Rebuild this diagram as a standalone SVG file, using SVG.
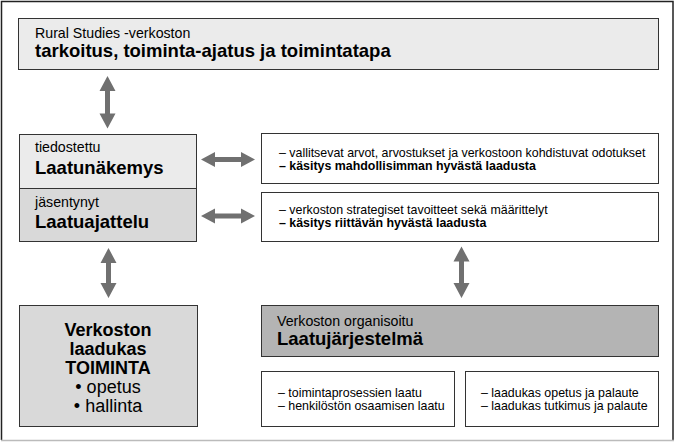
<svg xmlns="http://www.w3.org/2000/svg" width="675" height="443" viewBox="0 0 675 443">
<style>
.box{stroke:#333;stroke-width:1}
.l1{fill:#ebebeb}
.l2{fill:#d9d9d9}
.l3{fill:#b4b4b4}
.w{fill:#fff}
.arr{fill:#707070}
text{font-family:"Liberation Sans",Arial,sans-serif;fill:#000}
.s{font-size:14.2px}
.b{font-size:18.5px;font-weight:bold}
.t{font-size:12.4px}
.tb{font-size:12.4px;font-weight:bold}
.c{font-size:18px;text-anchor:middle}
</style>
<rect x="0" y="0" width="675" height="443" fill="#fff"/>
<path d="M1.5,440 V1.5 H673 V440" fill="none" stroke="#222" stroke-width="1.5"/>
<path d="M1,440.5 H674" stroke="#bbb" stroke-width="1.5"/>

<g id="top">
<rect class="box l1" x="18.5" y="18.5" width="640" height="51"/>
<text class="s" x="35" y="38">Rural Studies -verkoston</text>
<text class="b" x="35" y="57">tarkoitus, toiminta-ajatus ja toimintatapa</text>
</g>

<g id="laatunakemys">
<rect class="box l1" x="19.5" y="134.5" width="177" height="54"/>
<text class="s" x="35" y="152">tiedostettu</text>
<text class="b" x="35" y="173.5">Laatunäkemys</text>
</g>

<g id="laatuajattelu">
<rect class="box l2" x="19.5" y="188.5" width="177" height="53"/>
<text class="s" x="35" y="207">jäsentynyt</text>
<text class="b" x="35" y="228">Laatuajattelu</text>
</g>

<g id="arvot">
<rect class="box w" x="261.5" y="133.5" width="397" height="50"/>
<text class="t" x="279" y="156.7">– vallitsevat arvot, arvostukset ja verkostoon kohdistuvat odotukset</text>
<text class="tb" x="279" y="170">– käsitys mahdollisimman hyvästä laadusta</text>
</g>

<g id="strategia">
<rect class="box w" x="261.5" y="192.5" width="397" height="49"/>
<text class="t" x="279" y="214.3">– verkoston strategiset tavoitteet sekä määrittelyt</text>
<text class="tb" x="279" y="227">– käsitys riittävän hyvästä laadusta</text>
</g>

<g id="toiminta">
<rect class="box l2" x="19.5" y="305.5" width="178" height="121"/>
<text class="c" x="108" y="336" font-weight="bold">Verkoston</text>
<text class="c" x="108" y="355" font-weight="bold">laadukas</text>
<text class="c" x="108" y="374" font-weight="bold">TOIMINTA</text>
<text class="c" x="108" y="393">• opetus</text>
<text class="c" x="108" y="412">• hallinta</text>
</g>

<g id="laatujarjestelma">
<rect class="box l3" x="261.5" y="305.5" width="397" height="51"/>
<text class="s" x="277" y="326">Verkoston organisoitu</text>
<text class="b" x="277" y="345">Laatujärjestelmä</text>
</g>

<g id="prosessit">
<rect class="box w" x="261.5" y="371.5" width="193" height="55"/>
<text class="t" x="278" y="396.7">– toimintaprosessien laatu</text>
<text class="t" x="278" y="409.5">– henkilöstön osaamisen laatu</text>
</g>

<g id="opetus">
<rect class="box w" x="465.5" y="371.5" width="193" height="55"/>
<text class="t" x="481" y="396.7">– laadukas opetus ja palaute</text>
<text class="t" x="481" y="409.5">– laadukas tutkimus ja palaute</text>
</g>

<g id="connectors" class="arr">
<path d="M107.5,76 L115.5,91 L110,91 L110,113.5 L115.5,113.5 L107.5,128.5 L99.5,113.5 L105,113.5 L105,91 L99.5,91 Z"/>
<path d="M108.5,248 L116.5,263 L111,263 L111,283 L116.5,283 L108.5,298 L100.5,283 L106,283 L106,263 L100.5,263 Z"/>
<path d="M461.5,246.5 L469.5,261.5 L464,261.5 L464,283 L469.5,283 L461.5,298 L453.5,283 L459,283 L459,261.5 L453.5,261.5 Z"/>
<path d="M201,159.5 L215,152 L215,157 L241,157 L241,152 L255,159.5 L241,167 L241,162 L215,162 L215,167 Z"/>
<path d="M201,216 L215,208.5 L215,213.5 L241,213.5 L241,208.5 L255,216 L241,223.5 L241,218.5 L215,218.5 L215,223.5 Z"/>
</g>
</svg>
